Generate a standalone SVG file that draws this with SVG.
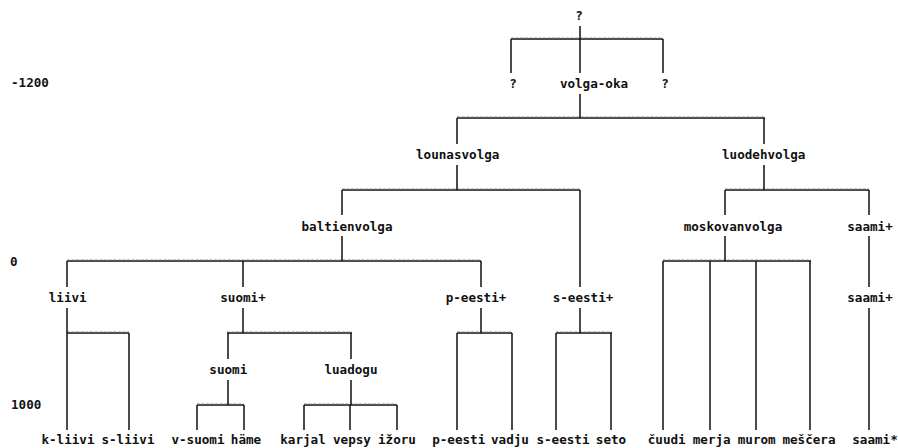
<svg xmlns="http://www.w3.org/2000/svg" width="898" height="448" viewBox="0 0 898 448">
<style>
text{font-family:"DejaVu Sans Mono","Liberation Mono",monospace;font-weight:bold;font-size:12.6px;fill:#111;text-anchor:middle}
text.yr{text-anchor:start}
.c path{fill:none;stroke:#111;stroke-width:1.5}
.c path.dash{stroke:#999;stroke-width:0.8;stroke-dasharray:3 1.6}
</style>
<rect width="898" height="448" fill="#fff"/>
<g id="years">
<text class="yr" x="11" y="87">-1200</text>
<text class="yr" x="10" y="265.5">0</text>
<text class="yr" x="11" y="408.5">1000</text>
</g>
<g class="c" id="connectors">
<path d="M511 39H663M457 118H765M342 190H580M725 190H869M67 261H481M663 261H811M67 333H129M227 333H352M457 333H512M556 333H612M197 405H244M304 405H397"/>
<path class="dash" d="M511 37.8H663M457 116.8H765M342 188.8H580M725 188.8H869M67 259.8H481M663 259.8H811M67 331.8H129M227 331.8H352M457 331.8H512M556 331.8H612M197 403.8H244M304 403.8H397"/>
<path d="M580 26V73M511 39V73M663 39V73M580 94V118
M457 118V144M457 165V190M764 118V144M764 165V190
M342 190V215M342 236V261M580 190V287M580 308V333M725 190V215M725 236V261M869 190V215M869 236V287M869 308V430
M67 261V287M67 308V430M243 261V287M243 308V333M481 261V287M481 308V333
M663 261V430M710 261V430M756 261V430M810 261V430
M129 333V430M228 333V359M228 380V405M351 333V359M351 380V405
M457 333V430M512 333V430M556 333V430M611 333V430
M197 405V430M244 405V430M304 405V430M350 405V430M397 405V430"/>
</g>
<g id="n-root"><text x="579" y="19.5">?</text></g>
<g id="n-q1"><text x="513" y="87.5">?</text></g>
<g id="n-volga-oka"><text x="594" y="87.5">volga-oka</text></g>
<g id="n-q2"><text x="665" y="87.5">?</text></g>
<g id="n-lounasvolga"><text x="457.7" y="159">lounasvolga</text></g>
<g id="n-luodehvolga"><text x="763.7" y="159">luodehvolga</text></g>
<g id="n-baltienvolga"><text x="347" y="230.5">baltienvolga</text></g>
<g id="n-moskovanvolga"><text x="733" y="230.5">moskovanvolga</text></g>
<g id="n-saami-3"><text x="870" y="230.5">saami+</text></g>
<g id="n-liivi"><text x="67.7" y="301.5">liivi</text></g>
<g id="n-suomi-plus"><text x="243" y="301.5">suomi+</text></g>
<g id="n-p-eesti-plus"><text x="476" y="301.5">p-eesti+</text></g>
<g id="n-s-eesti-plus"><text x="583" y="301.5">s-eesti+</text></g>
<g id="n-saami-4"><text x="870" y="301.5">saami+</text></g>
<g id="n-suomi"><text x="228.3" y="373.5">suomi</text></g>
<g id="n-luadogu"><text x="351" y="373.5">luadogu</text></g>
<g id="n-k-liivi"><text x="68" y="443.5">k-liivi</text></g>
<g id="n-s-liivi"><text x="128" y="443.5">s-liivi</text></g>
<g id="n-v-suomi"><text x="198" y="443.5">v-suomi</text></g>
<g id="n-hame"><text x="246" y="443.5">häme</text></g>
<g id="n-karjal"><text x="303" y="443.5">karjal</text></g>
<g id="n-vepsy"><text x="352" y="443.5">vepsy</text></g>
<g id="n-izoru"><text x="397" y="443.5">ižoru</text></g>
<g id="n-p-eesti"><text x="458.7" y="443.5">p-eesti</text></g>
<g id="n-vadju"><text x="510" y="443.5">vadju</text></g>
<g id="n-s-eesti"><text x="563" y="443.5">s-eesti</text></g>
<g id="n-seto"><text x="611" y="443.5">seto</text></g>
<g id="n-cuudi"><text x="666.7" y="443.5">čuudi</text></g>
<g id="n-merja"><text x="711.7" y="443.5">merja</text></g>
<g id="n-murom"><text x="756.7" y="443.5">murom</text></g>
<g id="n-mescera"><text x="809" y="443.5">meščera</text></g>
<g id="n-saami-star"><text x="875" y="443.5">saami*</text></g>
</svg>
